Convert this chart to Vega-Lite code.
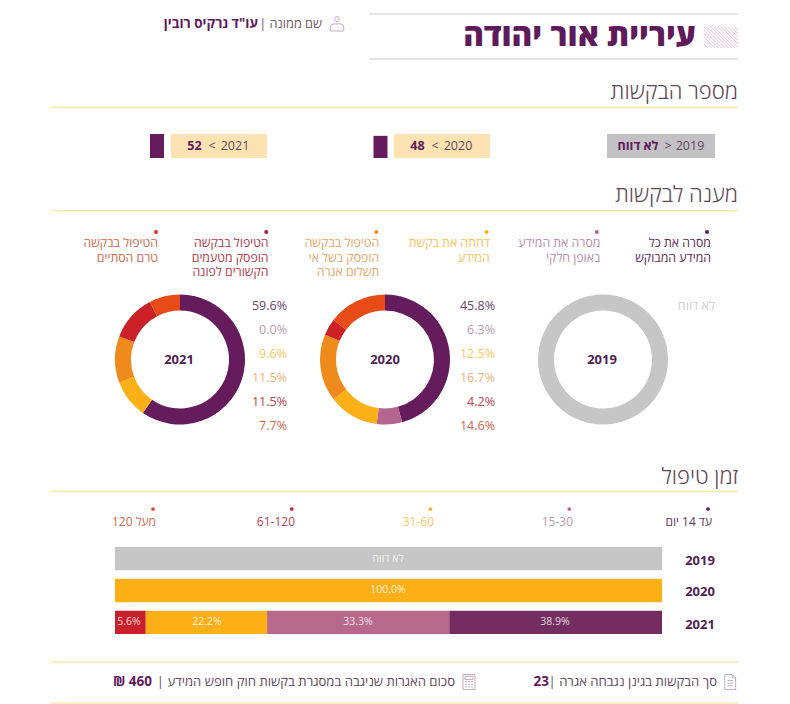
{
"$schema":"https://vega.github.io/schema/vega-lite/v6.json",
"width":790,"height":704,"padding":0,
"autosize":{"type":"fit","contains":"padding"},
"background":"#ffffff",
"config":{"view":{"stroke":null},"axis":{"disable":true},"legend":{"disable":true},"text":{"font":"Open Sans"}},
"datasets":{
"years":[{"year":2019,"count":null,"shown":"לא דווח"},{"year":2020,"count":48,"shown":"48"},{"year":2021,"count":52,"shown":"52"}],
"responses":[
{"year":2019,"outcome":0,"pct":100,"label":"לא דווח"},
{"year":2020,"outcome":1,"pct":45.8,"label":"45.8%"},{"year":2020,"outcome":2,"pct":6.3,"label":"6.3%"},{"year":2020,"outcome":3,"pct":12.5,"label":"12.5%"},{"year":2020,"outcome":4,"pct":16.7,"label":"16.7%"},{"year":2020,"outcome":5,"pct":4.2,"label":"4.2%"},{"year":2020,"outcome":6,"pct":14.6,"label":"14.6%"},
{"year":2021,"outcome":1,"pct":59.6,"label":"59.6%"},{"year":2021,"outcome":2,"pct":0,"label":"0.0%"},{"year":2021,"outcome":3,"pct":9.6,"label":"9.6%"},{"year":2021,"outcome":4,"pct":11.5,"label":"11.5%"},{"year":2021,"outcome":5,"pct":11.5,"label":"11.5%"},{"year":2021,"outcome":6,"pct":7.7,"label":"7.7%"}],
"outcomes":[
{"outcome":1,"label":"מסרה את כל\nהמידע המבוקש"},
{"outcome":2,"label":"מסרה את המידע\nבאופן חלקי"},
{"outcome":3,"label":"דחתה את בקשת\nהמידע"},
{"outcome":4,"label":"הטיפול בבקשה\nהופסק בשל אי\nתשלום אגרה"},
{"outcome":5,"label":"הטיפול בבקשה\nהופסק מטעמים\nהקשורים לפונה"},
{"outcome":6,"label":"הטיפול בבקשה\nטרם הסתיים"}],
"buckets":[{"bucket":1,"label":"עד 14 יום"},{"bucket":2,"label":"15-30"},{"bucket":3,"label":"31-60"},{"bucket":4,"label":"61-120"},{"bucket":5,"label":"מעל 120"}],
"timing":[
{"year":2019,"bucket":0,"pct":100,"label":"לא דווח"},
{"year":2020,"bucket":3,"pct":100,"label":"100.0%"},
{"year":2021,"bucket":1,"pct":38.9,"label":"38.9%"},{"year":2021,"bucket":2,"pct":33.3,"label":"33.3%"},{"year":2021,"bucket":3,"pct":22.2,"label":"22.2%"},{"year":2021,"bucket":4,"pct":5.6,"label":"5.6%"}],
"sections":[{"section":1,"label":"מספר הבקשות"},{"section":2,"label":"מענה לבקשות"},{"section":3,"label":"זמן טיפול"}],
"lines":[{"line":1},{"line":2},{"line":3},{"line":4},{"line":5}],
"icons":[{"id":1,"icon":"person"},{"id":2,"icon":"calc"},{"id":3,"icon":"doc"}],
"footer":[{"item":1,"label":"| סך הבקשות בגינן נגבחה אגרה","value":"23"},{"item":2,"label":"| סכום האגרות שניגבה במסגרת בקשות חוק חופש המידע","value":"₪ 460"}]
},
"resolve":{"scale":{"x":"independent","y":"independent","theta":"independent","color":"independent","shape":"independent"}},
"layer":[
{"data":{"values":[{"rule":1},{"rule":2}]},"mark":{"type":"rule","color":"#dcdcdc","strokeWidth":1.6},
 "encoding":{"y":{"field":"rule","type":"quantitative","scale":{"domain":[1,2],"range":[14,59]}},"x":{"datum":0,"scale":{"domain":[0,1],"range":[369,738]}},"x2":{"datum":1}}},
{"data":{"name":"lines"},"mark":{"type":"rule","color":"#f8e7ae","strokeWidth":1.3},
 "encoding":{"y":{"field":"line","type":"quantitative","scale":{"domain":[1,2,3,4,5],"range":[107.5,210.5,491.5,662,703]}},"x":{"datum":0,"scale":{"domain":[0,1],"range":[51,738]}},"x2":{"datum":1}}},
{"data":{"values":[{"name":"עיריית אור יהודה"}]},"mark":{"type":"text","align":"right","baseline":"middle","fontSize":31.5,"fontWeight":800,"color":"#5f1a5b"},
 "encoding":{"text":{"field":"name"},"x":{"field":"name","type":"nominal","scale":{"type":"point","range":[696,696]}},"y":{"field":"name","type":"nominal","scale":{"type":"point","range":[37,37]}}}},
{"data":{"values":[{"mark":"hatch"}]},"mark":{"type":"point","filled":false,"stroke":"#dcaec6","strokeWidth":1,"size":1156,"shape":"M-1,.38L-.76,.62M-1,.18L-.56,.62M-1,-.02L-.36,.62M-1,-.22L-.16,.62M-1,-.42L.04,.62M-1,-.62L.24,.62M-.8,-.62L.44,.62M-.6,-.62L.64,.62M-.4,-.62L.84,.62M-.2,-.62L1,.58M0,-.62L1,.38M.2,-.62L1,.18M.4,-.62L1,-.02M.6,-.62L1,-.22M.8,-.62L1,-.42"},
 "encoding":{"x":{"field":"mark","type":"nominal","scale":{"type":"point","range":[721,721]}},"y":{"field":"mark","type":"nominal","scale":{"type":"point","range":[37.5,37.5]}}}},
{"data":{"values":[{"role":"| שם ממונה","who":"עו\"ד נרקיס רובין"}]},"mark":{"type":"text","align":"right","baseline":"middle","fontSize":12.7,"fontWeight":400,"color":"#6a5767"},
 "encoding":{"text":{"field":"role"},"x":{"field":"role","type":"nominal","scale":{"type":"point","range":[322,322]}},"y":{"field":"role","type":"nominal","scale":{"type":"point","range":[24,24]}}}},
{"data":{"values":[{"role":"| שם ממונה","who":"עו\"ד נרקיס רובין"}]},"mark":{"type":"text","align":"right","baseline":"middle","fontSize":13.5,"fontWeight":700,"color":"#5f1a5b"},
 "encoding":{"text":{"field":"who"},"x":{"field":"who","type":"nominal","scale":{"type":"point","range":[258,258]}},"y":{"field":"who","type":"nominal","scale":{"type":"point","range":[24,24]}}}},
{"data":{"name":"icons"},"mark":{"type":"point","filled":false,"stroke":"#a98da3","strokeWidth":1,"size":225},
 "encoding":{"x":{"field":"id","type":"quantitative","scale":{"domain":[1,2,3],"range":[337,469,730]}},"y":{"field":"id","type":"quantitative","scale":{"domain":[1,2,3],"range":[23.5,682,682]}},
 "shape":{"field":"icon","type":"nominal","scale":{"domain":["person","calc","doc"],"range":["M-.3,-.6a.3,.35 0 1 0 .6,0a.3,.35 0 1 0 -.6,0M-.9,1L-.9,.5Q-.9,.05 -.4,.05L.4,.05Q.9,.05 .9,.5L.9,1Z","M-.8,-1H.8V1H-.8ZM-.55,-.75H.55V-.35H-.55ZM-.55,-.05H-.25M-.15,-.05H.15M.25,-.05H.55M-.55,.3H-.25M-.15,.3H.15M.25,.3H.55M-.55,.65H-.25M-.15,.65H.15M.25,.65H.55","M-.7,-1H.3L.75,-.55V1H-.7ZM.3,-1V-.55H.75M-.35,-.2H.4M-.35,.15H.4M-.35,.5H.4"]}}}},
{"data":{"name":"sections"},"mark":{"type":"text","align":"right","baseline":"middle","fontSize":22,"fontWeight":300,"color":"#5c4a59"},
 "encoding":{"text":{"field":"label"},"x":{"datum":1,"scale":{"domain":[0,1],"range":[51,738]}},"y":{"field":"section","type":"quantitative","scale":{"domain":[1,2,3],"range":[92,195,477]}}}},
{"data":{"name":"years"},"transform":[{"filter":"datum.year==2019"}],"mark":{"type":"rect","color":"#c2c2c4","width":108},
 "encoding":{"x":{"field":"year","type":"nominal","scale":{"type":"point","range":[661,661]}},"y":{"field":"year","type":"nominal","scale":{"type":"band","range":[134,158],"paddingInner":0,"paddingOuter":0}}}},
{"data":{"name":"years"},"transform":[{"filter":"datum.year>2019"}],"mark":{"type":"rect","color":"#fde3b1","width":96},
 "encoding":{"x":{"field":"year","type":"nominal","scale":{"type":"point","padding":0,"domain":[2020,2021],"range":[442,219]}},"y":{"datum":"box","type":"nominal","scale":{"type":"band","domain":["box"],"range":[134,158],"paddingInner":0,"paddingOuter":0}}}},
{"data":{"name":"years"},"transform":[{"filter":"datum.year>2019"}],"mark":{"type":"bar","color":"#651c5c","width":14},
 "encoding":{"x":{"field":"year","type":"nominal","scale":{"type":"point","padding":0,"domain":[2020,2021],"range":[380.5,157]}},"y":{"field":"count","type":"quantitative","scale":{"domain":[0,52],"range":[158,134]}}}},
{"data":{"name":"years"},"mark":{"type":"text","align":"center","baseline":"middle","fontSize":12.5,"color":"#5f4a5c"},
 "encoding":{"text":{"field":"year"},"x":{"field":"year","type":"quantitative","scale":{"domain":[2019,2020,2021],"range":[690,458,235]}},"y":{"field":"year","type":"quantitative","scale":{"domain":[2019,2021],"range":[146,146]}}}},
{"data":{"name":"years"},"transform":[{"filter":"datum.year==2019"}],"mark":{"type":"text","align":"center","baseline":"middle","fontSize":12.5,"color":"#5f4a5c"},
 "encoding":{"text":{"datum":">"},"x":{"field":"year","type":"nominal","scale":{"type":"point","range":[668,668]}},"y":{"field":"year","type":"nominal","scale":{"type":"point","range":[146,146]}}}},
{"data":{"name":"years"},"transform":[{"filter":"datum.year>2019"}],"mark":{"type":"text","align":"center","baseline":"middle","fontSize":12.5,"color":"#5f4a5c"},
 "encoding":{"text":{"datum":"<"},"x":{"field":"year","type":"nominal","scale":{"type":"point","padding":0,"domain":[2020,2021],"range":[435,212]}},"y":{"field":"year","type":"nominal","scale":{"type":"point","range":[146,146]}}}},
{"data":{"name":"years"},"mark":{"type":"text","align":"center","baseline":"middle","fontSize":12.5,"fontWeight":700,"color":"#5f1a5b"},
 "encoding":{"text":{"field":"shown"},"x":{"field":"year","type":"quantitative","scale":{"domain":[2019,2020,2021],"range":[638,417.5,194.5]}},"y":{"field":"year","type":"quantitative","scale":{"domain":[2019,2021],"range":[146,146]}}}},
{"data":{"name":"outcomes"},"mark":{"type":"point","filled":true,"size":16,"opacity":1},
 "encoding":{"x":{"field":"outcome","type":"quantitative","scale":{"domain":[1,6],"range":[707,156]}},"y":{"field":"outcome","type":"quantitative","scale":{"domain":[1,6],"range":[232,232]}},"color":{"field":"outcome","type":"nominal","scale":{"domain":[1,2,3,4,5,6],"range":["#5a1a56","#b5668f","#fbb017","#ee8b1c","#a81c35","#d9322a"]}}}},
{"data":{"name":"outcomes"},"mark":{"type":"text","align":"right","baseline":"top","fontSize":12.3,"lineHeight":14.5,"lineBreak":"\n","fontWeight":400},
 "encoding":{"text":{"field":"label"},"x":{"field":"outcome","type":"quantitative","scale":{"domain":[1,6],"range":[711,158]}},"y":{"field":"outcome","type":"quantitative","scale":{"domain":[1,6],"range":[237,237]}},"color":{"field":"outcome","type":"nominal","scale":{"domain":[1,2,3,4,5,6],"range":["#5a2c56","#b88fa8","#f6c15a","#e8a66a","#b23a45","#cf6a4e"]}}}},
{"data":{"name":"responses"},"transform":[{"filter":"datum.year==2019"}],"mark":{"type":"arc","outerRadius":65,"innerRadius":49},
 "encoding":{"theta":{"field":"pct","type":"quantitative"},"order":{"field":"outcome"},"x":{"field":"year","type":"quantitative","scale":{"domain":[2019,2021],"range":[603,603]}},"y":{"field":"year","type":"quantitative","scale":{"domain":[2019,2021],"range":[359.5,359.5]}},"color":{"field":"outcome","type":"nominal","scale":{"domain":[0,1,2,3,4,5,6],"range":["#c6c6c6","#651c5c","#b5668f","#fbb017","#ee8b1c","#cc2127","#e84c16"]}}}},
{"data":{"name":"responses"},"transform":[{"filter":"datum.year==2020"}],"mark":{"type":"arc","outerRadius":65,"innerRadius":49},
 "encoding":{"theta":{"field":"pct","type":"quantitative"},"order":{"field":"outcome"},"x":{"field":"year","type":"quantitative","scale":{"domain":[2019,2021],"range":[385,385]}},"y":{"field":"year","type":"quantitative","scale":{"domain":[2019,2021],"range":[359.5,359.5]}},"color":{"field":"outcome","type":"nominal","scale":{"domain":[0,1,2,3,4,5,6],"range":["#c6c6c6","#651c5c","#b5668f","#fbb017","#ee8b1c","#cc2127","#e84c16"]}}}},
{"data":{"name":"responses"},"transform":[{"filter":"datum.year==2021"}],"mark":{"type":"arc","outerRadius":65,"innerRadius":49},
 "encoding":{"theta":{"field":"pct","type":"quantitative"},"order":{"field":"outcome"},"x":{"field":"year","type":"quantitative","scale":{"domain":[2019,2021],"range":[180,180]}},"y":{"field":"year","type":"quantitative","scale":{"domain":[2019,2021],"range":[359.5,359.5]}},"color":{"field":"outcome","type":"nominal","scale":{"domain":[0,1,2,3,4,5,6],"range":["#c6c6c6","#651c5c","#b5668f","#fbb017","#ee8b1c","#cc2127","#e84c16"]}}}},
{"data":{"name":"years"},"mark":{"type":"text","align":"center","baseline":"middle","fontSize":13,"fontWeight":700,"color":"#4f2350"},
 "encoding":{"text":{"field":"year"},"x":{"field":"year","type":"quantitative","scale":{"domain":[2019,2020,2021],"range":[602,385,179]}},"y":{"field":"year","type":"quantitative","scale":{"domain":[2019,2021],"range":[359.5,359.5]}}}},
{"data":{"name":"responses"},"mark":{"type":"text","align":"right","baseline":"middle","fontSize":12.5},
 "encoding":{"text":{"field":"label"},"x":{"field":"year","type":"quantitative","scale":{"domain":[2019,2020,2021],"range":[715,495,287]}},"y":{"field":"outcome","type":"quantitative","scale":{"domain":[0,1,6],"range":[306,306,426]}},"color":{"field":"outcome","type":"nominal","scale":{"domain":[0,1,2,3,4,5,6],"range":["#cfcfcf","#6a4468","#bd9ab0","#f8c765","#ecb27a","#b7434e","#d1684c"]}}}},
{"data":{"name":"buckets"},"mark":{"type":"point","filled":true,"size":14,"opacity":1},
 "encoding":{"x":{"field":"bucket","type":"quantitative","scale":{"domain":[1,5],"range":[708,153]}},"y":{"field":"bucket","type":"quantitative","scale":{"domain":[1,5],"range":[509,509]}},"color":{"field":"bucket","type":"nominal","scale":{"domain":[1,2,3,4,5],"range":["#5a1a56","#b5668f","#fbb017","#c8202a","#e2452b"]}}}},
{"data":{"name":"buckets"},"mark":{"type":"text","align":"right","baseline":"middle","fontSize":12},
 "encoding":{"text":{"field":"label"},"x":{"field":"bucket","type":"quantitative","scale":{"domain":[1,5],"range":[712,156]}},"y":{"field":"bucket","type":"quantitative","scale":{"domain":[1,5],"range":[522,522]}},"color":{"field":"bucket","type":"nominal","scale":{"domain":[1,2,3,4,5],"range":["#5a3a58","#bd9ab0","#f6c56a","#b7434e","#cf6a4e"]}}}},
{"data":{"name":"timing"},"mark":{"type":"bar"},
 "encoding":{"x":{"field":"pct","type":"quantitative","stack":"zero","scale":{"domain":[0,100],"range":[662,115]}},"y":{"field":"year","type":"nominal","scale":{"type":"band","domain":[2019,2020,2021],"range":[547,634],"paddingInner":0.27,"paddingOuter":0}},"order":{"field":"bucket"},"color":{"field":"bucket","type":"nominal","scale":{"domain":[0,1,2,3,4],"range":["#c6c6c6","#732d60","#b7698b","#fdb016","#c8202a"]}}}},
{"data":{"name":"timing"},"mark":{"type":"text","align":"center","baseline":"middle","fontSize":10.5,"color":"#ffffff","opacity":0.8},
 "encoding":{"text":{"field":"label"},"x":{"field":"pct","type":"quantitative","scale":{"domain":[5.6,22.2,33.3,38.9,100],"range":[129,207,358,555,388]}},"y":{"field":"year","type":"quantitative","scale":{"domain":[2019,2020,2021],"range":[558.5,590,622]}}}},
{"data":{"name":"timing"},"transform":[{"aggregate":[],"groupby":["year"]}],"mark":{"type":"text","align":"center","baseline":"middle","fontSize":13,"fontWeight":700,"color":"#4f2350"},
 "encoding":{"text":{"field":"year"},"x":{"field":"year","type":"quantitative","scale":{"domain":[2019,2021],"range":[700,700]}},"y":{"field":"year","type":"quantitative","scale":{"domain":[2019,2020,2021],"range":[560.5,592,624.5]}}}},
{"data":{"name":"footer"},"mark":{"type":"text","align":"right","baseline":"middle","fontSize":13.1,"color":"#5f4a5c"},
 "encoding":{"text":{"field":"label"},"x":{"field":"item","type":"quantitative","scale":{"domain":[1,2],"range":[717,455]}},"y":{"field":"item","type":"quantitative","scale":{"domain":[1,2],"range":[682,682]}}}},
{"data":{"name":"footer"},"mark":{"type":"text","align":"right","baseline":"middle","fontSize":13.5,"fontWeight":700,"color":"#5f1a5b"},
 "encoding":{"text":{"field":"value"},"x":{"field":"item","type":"quantitative","scale":{"domain":[1,2],"range":[549,152]}},"y":{"field":"item","type":"quantitative","scale":{"domain":[1,2],"range":[682,682]}}}}
]
}
